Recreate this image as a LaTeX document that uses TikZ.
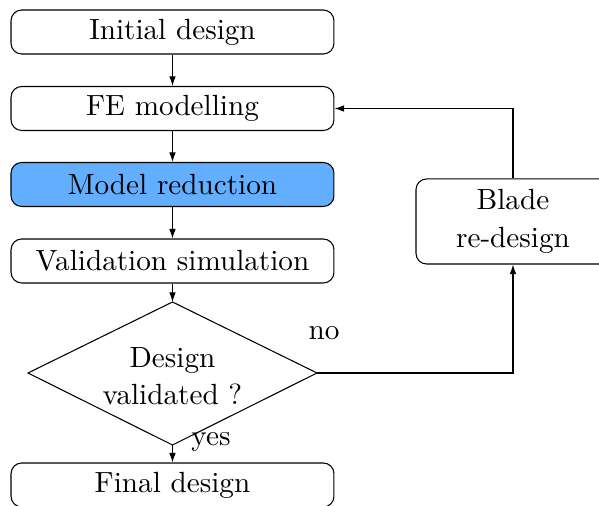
\documentclass[tikz,border=0pt]{standalone}
\usetikzlibrary{arrows.meta}
\definecolor{hiblue}{RGB}{99,174,255}
\begin{document}
\begin{tikzpicture}[x=0.375pt,y=-0.375pt,
  box/.style={draw, rounded corners=4pt, minimum width=121.1pt, minimum height=16.5pt,
    inner sep=0pt, align=center, font=\fontsize{10.95}{14}\selectfont},
  arr/.style={-{Latex[length=3.6pt,width=2.5pt]}, line width=0.4pt},
  lbl/.style={inner sep=0pt, font=\fontsize{10.95}{13}\selectfont}]
\useasboundingbox (0,0) rectangle (599,506);
\node[box] (init) at (172.5,32) {Initial design};
\node[box] (fe) at (172.5,108.5) {FE modelling};
\node[box, fill=hiblue] (mr) at (172.5,184.5) {Model reduction};
\node[box] (vs) at (172.5,261) {Validation simulation};
\node[box] (fin) at (172.5,485) {Final design};
\node[box, minimum width=72.75pt, minimum height=31.9pt] (blade) at (513,221.5) {Blade\\re-design};
% decision diamond
\coordinate (dtop) at (172.5,302);
\coordinate (dbot) at (172.5,445);
\coordinate (dleft) at (28,373);
\coordinate (dright) at (317,373);
\draw[line width=0.4pt] (dtop) -- (dright) -- (dbot) -- (dleft) -- cycle;
\node[align=center, inner sep=0pt, font=\fontsize{10.95}{14}\selectfont] (dec) at (172.5,376) {Design\\validated ?};
% connectors
\draw[arr] (init) -- (fe);
\draw[arr] (fe) -- (mr);
\draw[arr] (mr) -- (vs);
\draw[arr] (vs) -- (dtop);
\draw[arr] (dbot) -- (fin);
\draw[arr] (dright) -| (blade.south);
\draw[arr] (blade.north) |- (fe.east);
\node[lbl] (yes) at (211,442) {yes};
\node[lbl] (no) at (324,333) {no};
\end{tikzpicture}
\end{document}
